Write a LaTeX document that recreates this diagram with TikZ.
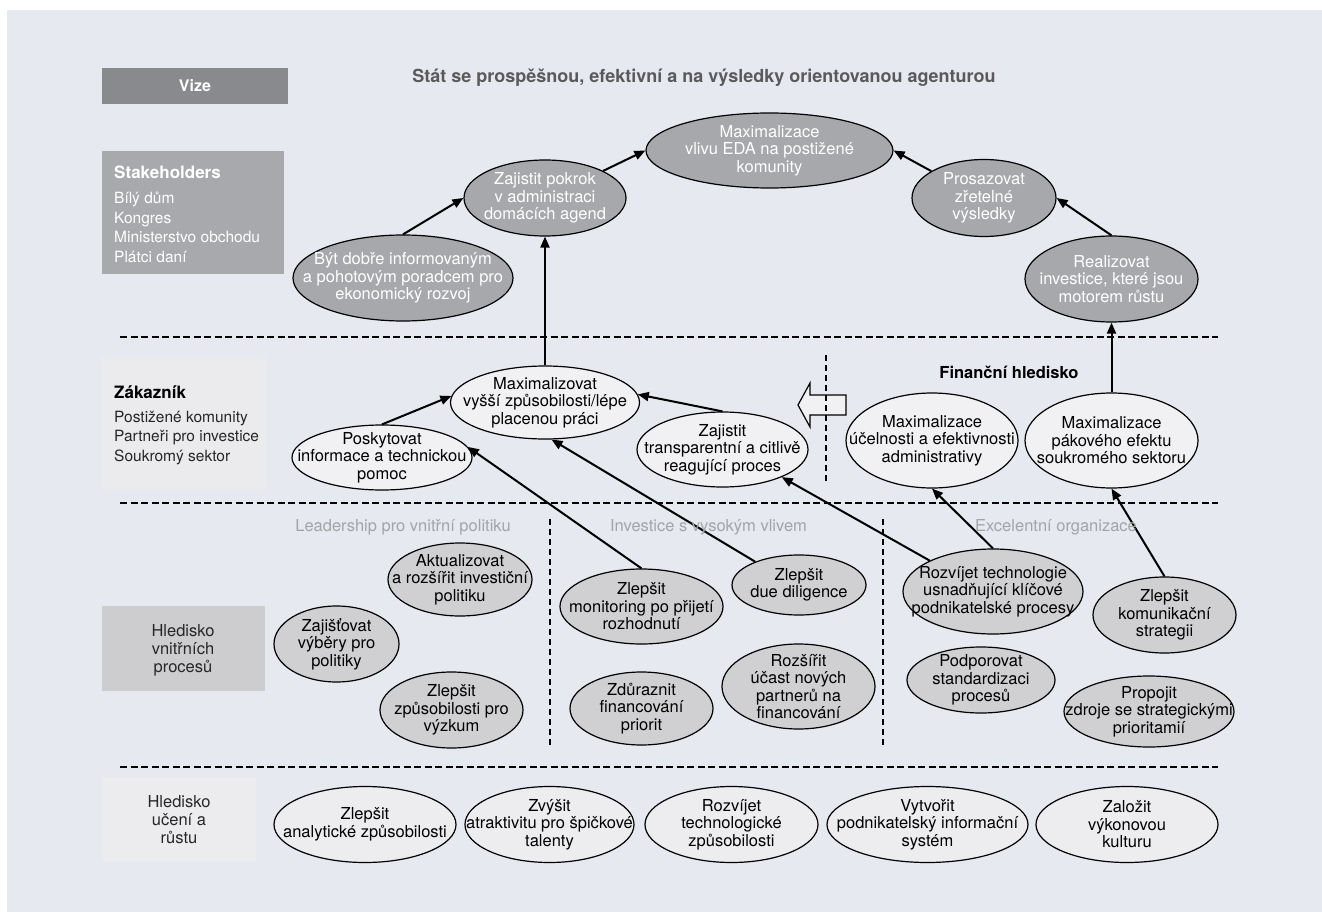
\documentclass[tikz,border=0pt]{standalone}
\usepackage{fontspec}
\setmainfont{TeX Gyre Heros}
\usetikzlibrary{shapes.geometric,arrows.meta}
\definecolor{panel}{HTML}{E6E9F0}
\definecolor{vizec}{HTML}{898A8D}
\definecolor{stakec}{HTML}{A8A9AC}
\definecolor{topfill}{HTML}{A7A8AB}
\definecolor{custbox}{HTML}{EBEBEE}
\definecolor{custfill}{HTML}{F1F1F3}
\definecolor{intbox}{HTML}{CDCDCF}
\definecolor{intfill}{HTML}{D0D0D2}
\definecolor{learnbox}{HTML}{ECECEE}
\definecolor{learnfill}{HTML}{EDEDEF}
\definecolor{headgray}{HTML}{A2A4A7}
\definecolor{titlec}{HTML}{5A5A5C}
\newcommand\etfont{\fontsize{16.5}{17.5}\selectfont}
\newcommand\lstfont{\fontsize{15.5}{19.5}\selectfont}
\tikzset{
  sz/.style 2 args={minimum width=#1pt, minimum height=#2pt},
  ell/.style={ellipse, draw=black, line width=1.2pt, inner sep=0pt},
  topell/.style={ell, fill=topfill},
  custell/.style={ell, fill=custfill},
  intell/.style={ell, fill=intfill},
  learnell/.style={ell, fill=learnfill},
  etxt/.style={align=center, font=\etfont, text=black, inner sep=0pt},
  wtxt/.style={etxt, text=white},
  arr/.style={line width=2pt, -{Triangle[length=11pt,width=9pt]}},
  hdash/.style={line width=2.5pt, dash pattern=on 7pt off 3.5pt},
  vdash/.style={line width=1.6pt, dash pattern=on 6pt off 4pt},
  headlbl/.style={font=\fontsize{16.5}{18}\selectfont, text=headgray, inner sep=0pt},
  boxlbl/.style={align=center, font=\fontsize{16.5}{18}\selectfont, text=black!85, inner sep=0pt}
}
\begin{document}
\begin{tikzpicture}[x=1pt,y=-1pt]
\useasboundingbox (0,0) rectangle (1322,912);
\fill[white] (0,0) rectangle (1322,912);
\fill[panel] (7,10) rectangle (1322,912);

% left boxes
\node[fill=vizec, sz={186}{36}, inner sep=0pt, text=white, font=\bfseries\fontsize{16}{18}\selectfont] (vize) at (195,86) {Vize};
\node[fill=stakec, sz={182}{123}, inner sep=0pt] (stake) at (193,212.5) {};
\node[anchor=west, text=white, font=\bfseries\fontsize{17}{19}\selectfont, inner sep=0pt] (stakeh) at (114,172) {Stakeholders};
\node[anchor=west, text=white, align=left, font=\lstfont, inner sep=0pt] (stakel) at (114,227.5) {Bílý dům\\Kongres\\Ministerstvo obchodu\\Plátci daní};

\node[fill=custbox, sz={165}{133}, inner sep=0pt] (custb) at (183.5,422.5) {};
\node[anchor=west, text=black, font=\bfseries\fontsize{17}{19}\selectfont, inner sep=0pt] (custh) at (114,392) {Zákazník};
\node[anchor=west, text=black!85, align=left, font=\lstfont, inner sep=0pt] (custl) at (114,438) {Postižené komunity\\Partneři pro investice\\Soukromý sektor};

\node[fill=intbox, sz={163}{85}, inner sep=0pt] (intb) at (183.5,648.5) {};
\node[boxlbl] (intt) at (183,650) {Hledisko\\vnitřních\\procesů};

\node[fill=learnbox, sz={154}{85}, inner sep=0pt] (learnb) at (179,819.5) {};
\node[boxlbl] (learnt) at (179,820) {Hledisko\\učení a\\růstu};

% title
\node[text=titlec, font=\bfseries\fontsize{18}{20}\selectfont, inner sep=0pt] (title) at (704,78) {Stát se prospěšnou, efektivní a na výsledky orientovanou agenturou};

% dashed separators
\coordinate (d1a) at (120,337); \coordinate (d1b) at (1218,337);
\coordinate (d2a) at (120,503); \coordinate (d2b) at (1218,503);
\coordinate (d3a) at (120,767); \coordinate (d3b) at (1218,767);
\draw[hdash] (d1a) -- (d1b);
\draw[hdash] (d2a) -- (d2b);
\draw[hdash] (d3a) -- (d3b);

% top level ellipses
\node[topell, sz={247}{75}] (mx) at (769.5,150.5) {};
\node[wtxt] at (mx) {Maximalizace\\vlivu EDA na postižené\\komunity};
\node[topell, sz={162}{76}] (zpk) at (545,198) {};
\node[wtxt] at (zpk) {Zajistit pokrok\\v administraci\\domácích agend};
\node[topell, sz={220}{86}] (bdi) at (403,278) {};
\node[wtxt] at (bdi) {Být dobře informovaným\\a pohotovým poradcem pro\\ekonomický rozvoj};
\node[topell, sz={144}{77}] (pzv) at (984,198) {};
\node[wtxt] at (pzv) {Prosazovat\\zřetelné\\výsledky};
\node[topell, sz={173}{86}] (rmr) at (1111.5,279) {};
\node[wtxt] at (rmr) {Realizovat\\investice, které jsou\\motorem růstu};

% customer level
\node[custell, sz={189}{73}] (mvz) at (545,402.5) {};
\node[etxt] at (mvz) {Maximalizovat\\vyšší způsobilosti/lépe\\placenou práci};
\node[custell, sz={180}{65}] (pti) at (382,457.5) {};
\node[etxt] at (pti) {Poskytovat\\informace a technickou\\pomoc};
\node[custell, sz={171}{75}] (zpt) at (722.5,449.5) {};
\node[etxt] at (zpt) {Zajistit\\transparentní a citlivě\\reagující proces};
\node[custell, sz={172}{95}] (mue) at (932,440.5) {};
\node[etxt] at (mue) {Maximalizace\\účelnosti a efektivnosti\\administrativy};
\node[custell, sz={173}{95}] (mpe) at (1111.5,440.5) {};
\node[etxt] at (mpe) {Maximalizace\\pákového efektu\\soukromého sektoru};
\node[font=\bfseries\fontsize{16.5}{18}\selectfont, inner sep=0pt] (finh) at (1009,372) {Finanční hledisko};

% open block arrow and dashed divider
\draw[line width=1.2pt, fill=custfill] (846,395) -- (810,395) -- (810,383) -- (798,405) -- (810,427) -- (810,415) -- (846,415) -- cycle;
\coordinate (v0a) at (826,355); \coordinate (v0b) at (826,484);
\draw[vdash] (v0a) -- (v0b);

% internal processes
\coordinate (v1a) at (550,519); \coordinate (v1b) at (550,748);
\coordinate (v2a) at (883,519); \coordinate (v2b) at (883,748);
\draw[vdash] (v1a) -- (v1b);
\draw[vdash] (v2a) -- (v2b);

\node[intell, sz={144}{73}] (akt) at (460,579.5) {};
\node[etxt] at (akt) {Aktualizovat\\a rozšířit investiční\\politiku};
\node[intell, sz={125}{76}] (zvp) at (336.5,644) {};
\node[etxt] at (zvp) {Zajišťovat\\výběry pro\\politiky};
\node[intell, sz={143}{76}] (zsv) at (451.5,710) {};
\node[etxt] at (zsv) {Zlepšit\\způsobilosti pro\\výzkum};
\node[intell, sz={163}{75}] (zmo) at (641.5,606.5) {};
\node[etxt] at (zmo) {Zlepšit\\monitoring po přijetí\\rozhodnutí};
\node[intell, sz={134}{60}] (zdd) at (799,585) {};
\node[etxt] at (zdd) {Zlepšit\\due diligence};
\node[intell, sz={143}{73}] (zfp) at (641.5,708.5) {};
\node[etxt] at (zfp) {Zdůraznit\\financování\\priorit};
\node[intell, sz={153}{85}] (rup) at (798.5,686.5) {};
\node[etxt] at (rup) {Rozšířit\\účast nových\\partnerů na\\financování};
\node[intell, sz={180}{85}] (rtu) at (993,591.5) {};
\node[etxt] at (rtu) {Rozvíjet technologie\\usnadňující klíčové\\podnikatelské procesy};
\node[intell, sz={143}{76}] (zks) at (1164.5,615) {};
\node[etxt] at (zks) {Zlepšit\\komunikační\\strategii};
\node[intell, sz={148}{66}] (pss) at (981,680) {};
\node[etxt] at (pss) {Podporovat\\standardizaci\\procesů};
\node[intell, sz={170}{71}] (pzs) at (1149,711.5) {};
\node[etxt] at (pzs) {Propojit\\zdroje se strategickými\\prioritamií};

% learning and growth
\node[learnell, sz={182}{76}] (lza) at (365,824.5) {};
\node[etxt] at (lza) {Zlepšit\\analytické způsobilosti};
\node[learnell, sz={169}{76}] (lzt) at (549.5,824.5) {};
\node[etxt] at (lzt) {Zvýšit\\atraktivitu pro špičkové\\talenty};
\node[learnell, sz={173}{76}] (lrt) at (731.5,824.5) {};
\node[etxt] at (lrt) {Rozvíjet\\technologické\\způsobilosti};
\node[learnell, sz={201}{76}] (lvp) at (927.5,824.5) {};
\node[etxt] at (lvp) {Vytvořit\\podnikatelský informační\\systém};
\node[learnell, sz={182}{76}] (lzk) at (1127,824.5) {};
\node[etxt] at (lzk) {Založit\\výkonovou\\kulturu};

% connectors
\draw[arr] (bdi.north) -- (zpk.west);
\draw[arr] (zpk.25) -- (mx.west);
\draw[arr] (pzv.153) -- (mx.east);
\draw[arr] (rmr.north) -- (pzv.east);
\draw[arr] (mvz.north) -- (zpk.south);
\draw[arr] (mpe.north) -- (rmr.south);
\draw[arr] (pti.north) -- (mvz.176);
\draw[arr] (zpt.north) -- (mvz.5);
\draw[arr] (zmo.north) -- (pti.7);
\draw[arr] (zdd.152) -- (mvz.-80);
\draw[arr] (rtu.154) -- (zpt.-25);
\draw[arr] (rtu.north) -- (mue.south);
\draw[arr] (zks.north) -- (mpe.south);

% section headings
\node[headlbl] (h1) at (403,527) {Leadership pro vnitřní politiku};
\node[headlbl] (h2) at (708.5,527) {Investice s vysokým vlivem};
\node[headlbl] (h3) at (1056,527) {Excelentní organizace};
\end{tikzpicture}
\end{document}
